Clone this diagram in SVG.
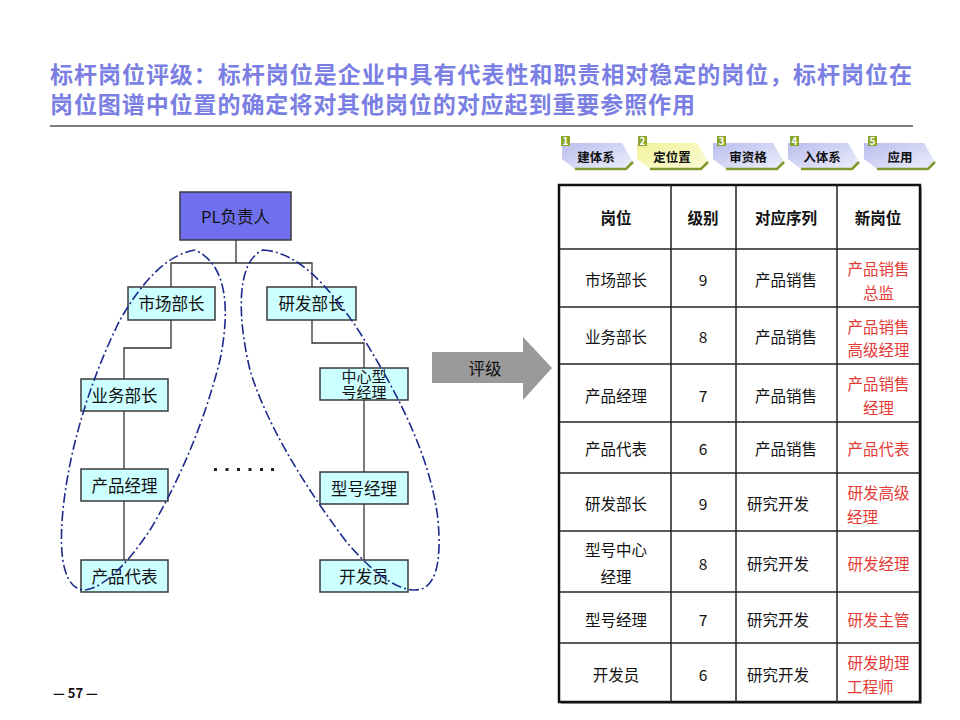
<svg xmlns="http://www.w3.org/2000/svg" width="960" height="720" viewBox="0 0 960 720">
<defs>
<linearGradient id="stepBlue" x1="0" y1="0" x2="1" y2="1">
<stop offset="0" stop-color="#b9bdee"/><stop offset="1" stop-color="#eef0fb"/>
</linearGradient>
<linearGradient id="stepYellow" x1="0" y1="0" x2="1" y2="1">
<stop offset="0" stop-color="#f1f29a"/><stop offset="1" stop-color="#fbfbd8"/>
</linearGradient>
</defs>
<style>
text{font-family:"Noto Sans CJK SC","Liberation Sans",sans-serif}
.title{font-size:23px;font-weight:bold;fill:#7b7fe3}
.node rect{fill:#ccffff;stroke:#3a3a3a;stroke-width:1.5}
.nt{font-size:16.5px;fill:#111;text-anchor:middle}
.nt2{font-size:15px}
.conn line,.conn polyline{stroke:#333;stroke-width:1.3;fill:none}
.loop{fill:none;stroke:#1c2a8c;stroke-width:1.6;stroke-dasharray:10 3 2 3}
.st{font-size:12.5px;font-weight:bold;fill:#111;text-anchor:middle}
.num{font-size:10px;font-weight:bold;fill:#fff;text-anchor:middle}
.nb{fill:#8aa52a}
.th{font-size:15.5px;font-weight:bold;fill:#111;text-anchor:middle}
.td{font-size:15.5px;fill:#111;text-anchor:middle}
.red{font-size:15.5px;fill:#e53935;text-anchor:middle}
.red.tl{text-anchor:start}
.grid line{stroke:#222;stroke-width:1.5}
</style>
<rect width="960" height="720" fill="#fff"/>

<g id="title">
<text class="title"><tspan x="50" y="83" textLength="862" lengthAdjust="spacing">标杆岗位评级：标杆岗位是企业中具有代表性和职责相对稳定的岗位，标杆岗位在</tspan><tspan x="50" y="113" textLength="645" lengthAdjust="spacing">岗位图谱中位置的确定将对其他岗位的对应起到重要参照作用</tspan></text>
<line x1="50" y1="126" x2="913" y2="126" stroke="#555" stroke-width="1.5"/>
</g>

<g id="steps">
<g id="step1" transform="translate(562,143)">
<polygon points="0,0 60,0 71,19 64,26 13,26 0,16" fill="url(#stepBlue)"/>
<polyline points="13,26 64,26 71,19" fill="none" stroke="#7f9a2a" stroke-width="2.5"/>
<rect class="nb" x="-1" y="-7" width="9" height="10"/><text class="num" x="3.5" y="1.5">1</text>
<text class="st" x="34" y="19">建体系</text>
</g>
<g id="step2" transform="translate(637,143)">
<polygon points="0,0 60,0 71,19 64,26 13,26 0,16" fill="url(#stepYellow)"/>
<polyline points="13,26 64,26 71,19" fill="none" stroke="#7f9a2a" stroke-width="2.5"/>
<rect class="nb" x="1" y="-7" width="9" height="10"/><text class="num" x="5.5" y="1.5">2</text>
<text class="st" x="35" y="19">定位置</text>
</g>
<g id="step3" transform="translate(713,143)">
<polygon points="0,0 60,0 71,19 64,26 13,26 0,16" fill="url(#stepBlue)"/>
<polyline points="13,26 64,26 71,19" fill="none" stroke="#7f9a2a" stroke-width="2.5"/>
<rect class="nb" x="4" y="-7" width="9" height="10"/><text class="num" x="8.5" y="1.5">3</text>
<text class="st" x="35" y="19">审资格</text>
</g>
<g id="step4" transform="translate(788,143)">
<polygon points="0,0 60,0 71,19 64,26 13,26 0,16" fill="url(#stepBlue)"/>
<polyline points="13,26 64,26 71,19" fill="none" stroke="#7f9a2a" stroke-width="2.5"/>
<rect class="nb" x="2" y="-7" width="9" height="10"/><text class="num" x="6.5" y="1.5">4</text>
<text class="st" x="34" y="19">入体系</text>
</g>
<g id="step5" transform="translate(864,143)">
<polygon points="0,0 60,0 71,19 64,26 13,26 0,16" fill="url(#stepBlue)"/>
<polyline points="13,26 64,26 71,19" fill="none" stroke="#7f9a2a" stroke-width="2.5"/>
<rect class="nb" x="4" y="-7" width="9" height="10"/><text class="num" x="8.5" y="1.5">5</text>
<text class="st" x="36" y="19">应用</text>
</g>
</g>

<g id="connectors" class="conn">
<line x1="236" y1="240" x2="236" y2="263"/>
<polyline points="171,287 171,263 312,263 312,287"/>
<polyline points="171,320 171,348 124,348 124,379"/>
<line x1="124" y1="411" x2="124" y2="469"/>
<line x1="124" y1="501" x2="124" y2="560"/>
<polyline points="312,320 312,343 364,343 364,368"/>
<line x1="364" y1="400" x2="364" y2="472"/>
<line x1="364" y1="504" x2="364" y2="560"/>
</g>

<g id="n-pl" class="node">
<rect x="180" y="192" width="111" height="48" style="fill:#7070ee"/>
<text class="nt" x="235.5" y="222.5">PL负责人</text>
</g>
<g id="n-sc" class="node">
<rect x="128" y="287" width="87" height="33"/>
<text class="nt" x="171.5" y="310">市场部长</text>
</g>
<g id="n-yf" class="node">
<rect x="267" y="287" width="89" height="33"/>
<text class="nt" x="311.5" y="310">研发部长</text>
</g>
<g id="n-yw" class="node">
<rect x="81" y="379" width="87" height="32"/>
<text class="nt" x="124.5" y="401.5">业务部长</text>
</g>
<g id="n-zx" class="node">
<rect x="320" y="368" width="88" height="32"/>
<text class="nt nt2"><tspan x="364" y="382">中心型</tspan><tspan x="364" y="398">号经理</tspan></text>
</g>
<g id="n-cpjl" class="node">
<rect x="81" y="469" width="87" height="32"/>
<text class="nt" x="124.5" y="491.5">产品经理</text>
</g>
<g id="n-xhjl" class="node">
<rect x="320" y="472" width="88" height="32"/>
<text class="nt" x="364" y="494.5">型号经理</text>
</g>
<g id="n-cpdb" class="node">
<rect x="81" y="560" width="87" height="32"/>
<text class="nt" x="124.5" y="582.5">产品代表</text>
</g>
<g id="n-kfy" class="node">
<rect x="320" y="560" width="88" height="32"/>
<text class="nt" x="364" y="582.5">开发员</text>
</g>

<g id="dots" fill="#222">
<rect x="214" y="468" width="3" height="3"/><rect x="225.5" y="468" width="3" height="3"/><rect x="237" y="468" width="3" height="3"/>
<rect x="248.5" y="468" width="3" height="3"/><rect x="260" y="468" width="3" height="3"/><rect x="271" y="468" width="3" height="3"/>
</g>

<g id="loops">
<path class="loop" d="M195,250 C165,255 140,285 120,320 C95,370 70,440 63,510 C58,560 65,590 85,590 C105,588 130,560 150,530 C180,480 205,420 220,360 C230,310 228,265 195,250 Z"/>
<path class="loop" d="M263,250 C300,252 330,290 355,325 C390,380 430,450 438,520 C442,565 435,590 415,590 C395,590 370,570 345,540 C300,480 265,420 250,370 C238,320 235,262 263,250 Z"/>
</g>

<g id="arrow">
<polygon points="432,352 523,352 523,337 552,368 523,400 523,383 432,383" fill="#9a9a9a"/>
<text x="485" y="375" font-size="16.5" fill="#111" text-anchor="middle">评级</text>
</g>

<g id="table">
<rect x="561" y="187" width="361" height="517" fill="#aaa"/>
<rect x="559" y="185" width="361" height="517" fill="#fff" stroke="#111" stroke-width="2.5"/>
<g class="grid">
<line x1="671" y1="185" x2="671" y2="702"/>
<line x1="736" y1="185" x2="736" y2="702"/>
<line x1="837" y1="185" x2="837" y2="702"/>
<line x1="559" y1="249" x2="920" y2="249"/>
<line x1="559" y1="307" x2="920" y2="307"/>
<line x1="559" y1="364" x2="920" y2="364"/>
<line x1="559" y1="422" x2="920" y2="422"/>
<line x1="559" y1="473" x2="920" y2="473"/>
<line x1="559" y1="531" x2="920" y2="531"/>
<line x1="559" y1="592" x2="920" y2="592"/>
<line x1="559" y1="643" x2="920" y2="643"/>
</g>
<text class="th" x="616" y="224">岗位</text>
<text class="th" x="703" y="224">级别</text>
<text class="th" x="786" y="224">对应序列</text>
<text class="th" x="878" y="224">新岗位</text>

<text class="td" x="616" y="286">市场部长</text>
<text class="td" x="703" y="286">9</text>
<text class="td" x="786" y="286">产品销售</text>
<text class="red" x="878.5" y="275">产品销售</text>
<text class="red" x="878.5" y="299">总监</text>

<text class="td" x="616" y="343">业务部长</text>
<text class="td" x="703" y="343">8</text>
<text class="td" x="786" y="343">产品销售</text>
<text class="red" x="878.5" y="333">产品销售</text>
<text class="red" x="878.5" y="356">高级经理</text>

<text class="td" x="616" y="402">产品经理</text>
<text class="td" x="703" y="402">7</text>
<text class="td" x="786" y="402">产品销售</text>
<text class="red" x="878.5" y="390">产品销售</text>
<text class="red" x="878.5" y="414">经理</text>

<text class="td" x="616" y="455">产品代表</text>
<text class="td" x="703" y="455">6</text>
<text class="td" x="786" y="455">产品销售</text>
<text class="red" x="878.5" y="455">产品代表</text>

<text class="td" x="616" y="510">研发部长</text>
<text class="td" x="703" y="510">9</text>
<text class="td" x="778" y="510">研究开发</text>
<text class="red" x="878.5" y="499">研发高级</text>
<text class="red tl" x="847" y="523">经理</text>

<text class="td" x="616" y="556">型号中心</text>
<text class="td" x="616" y="583">经理</text>
<text class="td" x="703" y="570">8</text>
<text class="td" x="778" y="570">研究开发</text>
<text class="red" x="878.5" y="570">研发经理</text>

<text class="td" x="616" y="626">型号经理</text>
<text class="td" x="703" y="626">7</text>
<text class="td" x="778" y="626">研究开发</text>
<text class="red" x="878.5" y="626">研发主管</text>

<text class="td" x="616" y="681">开发员</text>
<text class="td" x="703" y="681">6</text>
<text class="td" x="778" y="681">研究开发</text>
<text class="red" x="878.5" y="669">研发助理</text>
<text class="red tl" x="847" y="693">工程师</text>
</g>

<text x="53" y="698" font-family="Liberation Sans, sans-serif" font-size="13" font-weight="bold" fill="#111">— 57 —</text>
</svg>
